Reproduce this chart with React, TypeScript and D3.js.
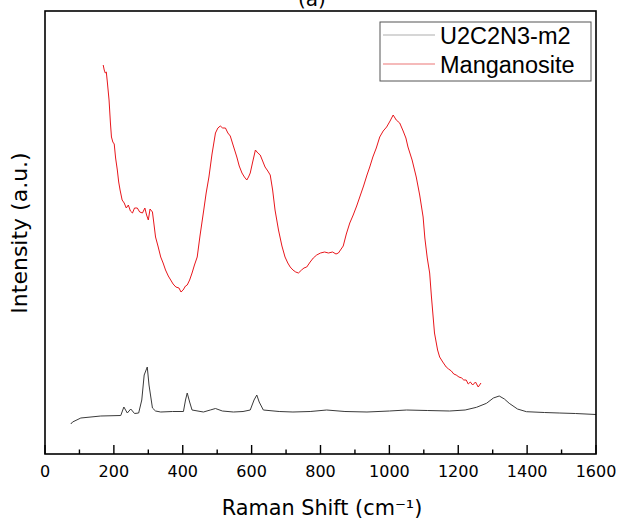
import React from "react";
import * as d3 from "d3";

const W = 619;
const H = 523;

const xTickValues = [0, 200, 400, 600, 800, 1000, 1200, 1400, 1600];
const xMinorTicks = [100, 300, 500, 700, 900, 1100, 1300, 1500];

const seriesNames = ["U2C2N3-m2", "Manganosite"];

// U2C2N3-m2 spectrum: [Raman shift, intensity (a.u.)]
const sampleShift = [75, 80, 104, 162, 220, 229, 239, 249, 260, 272, 281, 288, 297, 302, 312, 321, 336, 370, 402, 408, 413, 420, 427, 460, 480, 495, 515, 547, 575, 596, 607, 615, 622, 634, 680, 720, 770, 818, 871, 935, 1000, 1050, 1110, 1175, 1220, 1253, 1282, 1302, 1319, 1334, 1348, 1372, 1398, 1450, 1493, 1540, 1600];
const sampleIntensity = [34, 36, 40, 42, 42.5, 51, 45, 49, 44.5, 45, 58, 83, 91, 73, 50, 47, 46, 46.5, 46.5, 58, 65, 56, 48, 46, 48, 49.5, 47, 46, 46.5, 48, 58, 63, 56, 48, 46.5, 46, 46.5, 48, 46.5, 46, 47, 48, 47.5, 47, 48, 50.7, 54.7, 60, 62, 59, 54.7, 49, 46.3, 45.5, 45, 44.5, 43.5];

// Manganosite reference spectrum
const refShift = [169, 172, 175, 178, 181, 186, 190, 193, 197, 201, 205, 210, 214, 218, 224, 230, 236, 242, 248, 254, 260, 268, 275, 283, 290, 295, 300, 305, 312, 316, 321, 328, 336, 343, 350, 358, 365, 372, 380, 389, 395, 401, 408, 413, 420, 427, 434, 442, 450, 461, 468, 476, 485, 495, 502, 509, 516, 524, 531, 538, 547, 557, 564, 572, 579, 586, 591, 596, 603, 611, 618, 625, 632, 639, 647, 654, 661, 668, 678, 688, 697, 705, 712, 720, 728, 736, 745, 752, 760, 770, 779, 789, 800, 812, 823, 835, 845, 852, 860, 866, 875, 885, 895, 905, 914, 925, 935, 943, 952, 962, 972, 982, 992, 1002, 1011, 1020, 1030, 1040, 1048, 1054, 1066, 1078, 1088, 1098, 1103, 1110, 1117, 1122, 1131, 1140, 1146, 1155, 1165, 1172, 1180, 1187, 1194, 1202, 1210, 1216, 1223, 1229, 1235, 1242, 1250, 1258, 1266];
const refIntensity = [393, 388, 385, 386, 376, 358, 335, 321, 316, 314, 300, 288, 276, 268, 258, 255, 250, 253, 247, 245, 250, 250, 246, 245, 250, 243, 238, 249, 246, 235, 221, 212, 201, 195, 188, 182, 178, 174, 171, 170, 166, 168, 172, 173, 178, 185, 193, 201, 222, 248, 265, 281, 304, 325, 330, 332, 330, 330, 325, 322, 312, 301, 292, 285, 281, 278, 281, 285, 296, 308, 305, 303, 297, 291, 287, 283, 268, 248, 228, 212, 201, 195, 191, 188, 186, 185, 188, 190, 191, 196, 200, 203, 205, 206, 205, 206, 204, 205, 209, 212, 224, 235, 243, 252, 261, 272, 283, 291, 301, 310, 321, 327, 331, 337, 343, 338, 335, 327, 320, 311, 298, 281, 263, 241, 220, 200, 185, 162, 125, 108, 101, 96, 91, 89, 87, 84, 83, 81, 80, 78, 78, 74, 76, 73, 76, 71, 75];

const colors = ["#3a3a3a", "#e8161b"];
const legendColors = ["#c9c9c9", "#f2a3a3"];

export default function App() {
  const left = 45, right = 596, top = 11, bottom = 454;
  const x = d3.scaleLinear().domain([0, 1600]).range([left, right]);
  const y = d3.scaleLinear().domain([4, 447]).range([bottom, top]);

  const line = d3
    .line<[number, number]>()
    .x((d) => x(d[0]))
    .y((d) => y(d[1]));

  const sample: [number, number][] = sampleShift.map((s, i) => [s, sampleIntensity[i]]);
  const ref: [number, number][] = refShift.map((s, i) => [s, refIntensity[i]]);

  const font = "'DejaVu Sans', Verdana, sans-serif";
  const legendFont = "'Liberation Sans', Arial, sans-serif";

  return (
    <svg
      width={W}
      height={H}
      style={{ position: "absolute", left: 0, top: 0, background: "#fff" }}
    >
      <rect x={0} y={0} width={W} height={H} fill="#fff" />
      <text x={312} y={6} textAnchor="middle" fontFamily={font} fontSize={20} fill="#000">
        (a)
      </text>

      <path d={line(sample) || ""} fill="none" stroke={colors[0]} strokeWidth={1} />
      <path d={line(ref) || ""} fill="none" stroke={colors[1]} strokeWidth={1} />

      {/* frame */}
      <rect x={left} y={top} width={right - left} height={bottom - top} fill="none" stroke="#000" strokeWidth={1.6} />

      {xTickValues.map((t) => (
        <g key={"M" + t}>
          <line x1={x(t)} x2={x(t)} y1={bottom} y2={bottom - 9} stroke="#000" strokeWidth={1.4} />
          <text x={x(t)} y={477} textAnchor="middle" fontFamily={font} fontSize={16} fill="#000">
            {t}
          </text>
        </g>
      ))}
      {xMinorTicks.map((t) => (
        <line key={"m" + t} x1={x(t)} x2={x(t)} y1={bottom} y2={bottom - 4.5} stroke="#000" strokeWidth={1.4} />
      ))}

      <text x={322} y={515} textAnchor="middle" fontFamily={font} fontSize={20.8} fill="#000">
        Raman Shift (cm⁻¹)
      </text>
      <text
        transform={`translate(27,233) rotate(-90)`}
        textAnchor="middle"
        fontFamily={font}
        fontSize={22}
        fill="#000"
      >
        Intensity (a.u.)
      </text>

      {/* legend */}
      <rect x={380} y={22} width={211} height={59} fill="#fff" stroke="#555" strokeWidth={1} />
      {seriesNames.map((n, i) => (
        <g key={n}>
          <line x1={383} x2={435} y1={35 + i * 29} y2={35 + i * 29} stroke={legendColors[i]} strokeWidth={1.5} />
          <text x={440} y={44 + i * 29} fontFamily={legendFont} fontSize={23.5} fill="#000">
            {n}
          </text>
        </g>
      ))}
    </svg>
  );
}
